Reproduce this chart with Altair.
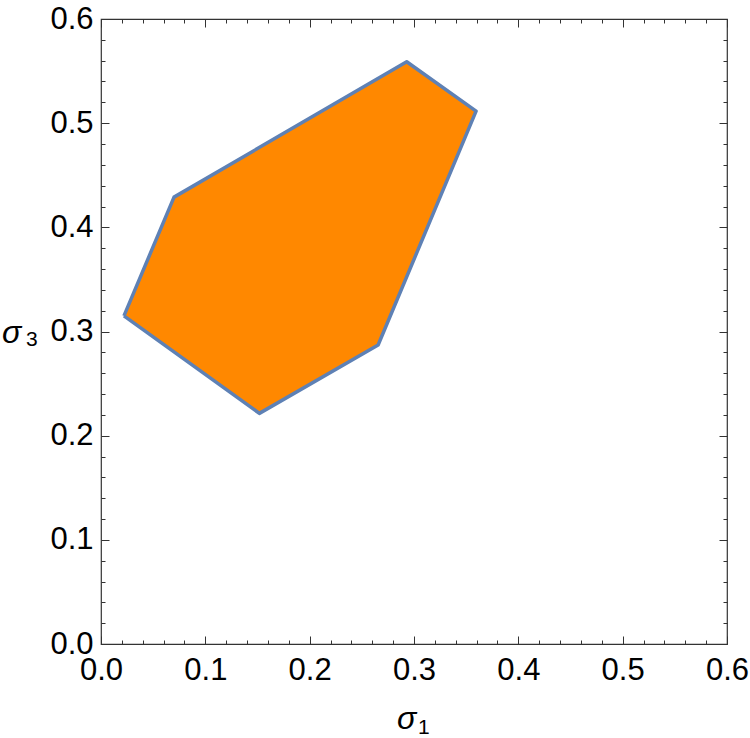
import altair as alt
import pandas as pd

# polygon vertices (closed)
sigma1 = [0.022, 0.070, 0.293, 0.3595, 0.2656, 0.1518, 0.022]
sigma3 = [0.315, 0.429, 0.559, 0.5115, 0.287, 0.2214, 0.315]
order = list(range(len(sigma1)))

major_ticks = [0.0, 0.1, 0.2, 0.3, 0.4, 0.5, 0.6]
minor_ticks = [round(0.02 * k, 2) for k in range(31) if k % 5 != 0]

df = pd.DataFrame({"s1": sigma1, "s3": sigma3, "i": order})

FONT = "Liberation Sans"
TICK = "#333333"
xs = alt.Scale(domain=[0, 0.6], nice=False, zero=False)
ys = alt.Scale(domain=[0, 0.6], nice=False, zero=False)


def axis(orient, values, size, labels):
    kw = dict(
        orient=orient, values=values, tickSize=size, offset=-size,
        domain=False, grid=False, title=None, tickColor=TICK, tickWidth=1,
        labels=labels,
    )
    if labels:
        kw.update(format=".1f", labelFont=FONT, labelFontSize=31,
                  labelColor="black", labelFlush=False, labelOverlap=False,
                  labelPadding=8 if orient == "left" else 11)
    return alt.Axis(**kw)


base = alt.Chart(df)

poly = base.mark_line(
    fill="#FF8800", stroke="#5E81B5", strokeWidth=3.5, strokeJoin="round"
).encode(
    x=alt.X("s1:Q", scale=xs, axis=axis("bottom", major_ticks, 8, True)),
    y=alt.Y("s3:Q", scale=ys, axis=axis("left", major_ticks, 8, True)),
    order=alt.Order("i:Q"),
)

minor_bl = base.mark_point(opacity=0).encode(
    x=alt.X("s1:Q", scale=xs, axis=axis("bottom", minor_ticks, 4, False)),
    y=alt.Y("s3:Q", scale=ys, axis=axis("left", minor_ticks, 4, False)),
)
major_tr = base.mark_point(opacity=0).encode(
    x=alt.X("s1:Q", scale=xs, axis=axis("top", major_ticks, 8, False)),
    y=alt.Y("s3:Q", scale=ys, axis=axis("right", major_ticks, 8, False)),
)
minor_tr = base.mark_point(opacity=0).encode(
    x=alt.X("s1:Q", scale=xs, axis=axis("top", minor_ticks, 4, False)),
    y=alt.Y("s3:Q", scale=ys, axis=axis("right", minor_ticks, 4, False)),
)

lab = alt.Chart(pd.DataFrame({"a": [0]}))
def txt(s, x, y, size, italic):
    return lab.mark_text(
        text=s, font=FONT, fontSize=size, fontStyle="italic" if italic else "normal",
        align="left", baseline="alphabetic", color="black",
    ).encode(x=alt.value(x), y=alt.value(y))

titles = [
    txt("σ", 296, 710, 32, True),
    txt("1", 317, 715, 21, False),
    txt("σ", -99, 324, 32, True),
    txt("3", -75, 327, 21, False),
]

chart = alt.layer(poly, minor_bl, major_tr, minor_tr, *titles).resolve_axis(
    x="independent", y="independent"
).properties(
    width=626, height=625,
    autosize=alt.AutoSizeParams(type="none"),
    padding={"left": 101, "top": 19, "right": 23, "bottom": 94},
    background="white",
).configure_view(stroke="#333333", strokeWidth=1.2)

chart.save("out.html", embed_options={"renderer": "svg", "actions": False})
